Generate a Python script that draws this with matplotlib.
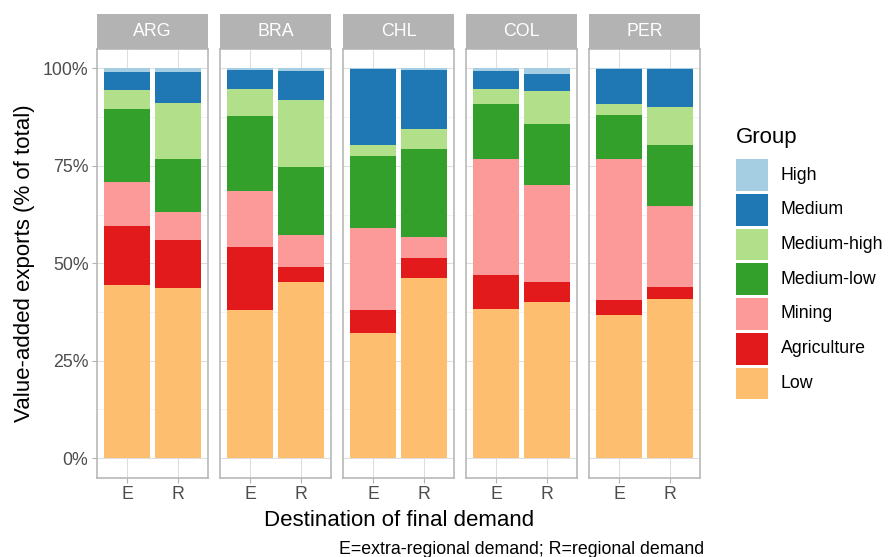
import matplotlib
matplotlib.use('Agg')
import matplotlib.pyplot as plt
from matplotlib.patches import Rectangle
import numpy as np

plt.rcParams['font.family'] = ['Liberation Sans', 'DejaVu Sans']

# data: share of value-added exports (%), stacked bottom -> top
countries = ['ARG', 'BRA', 'CHL', 'COL', 'PER']
destinations = ['E', 'R']
groups = ['Low', 'Agriculture', 'Mining', 'Medium-low', 'Medium-high', 'Medium', 'High']
colors = ['#FDBF6F', '#E31A1C', '#FB9A99', '#33A02C', '#B2DF8A', '#1F78B4', '#A6CEE3']

# each row: [E, R] per country, order as countries
low = [[44.4, 43.6], [38.0, 45.1], [32.1, 46.2], [38.25, 40.0], [36.7, 40.9]]
agriculture = [[15.1, 12.3], [16.1, 3.85], [5.9, 5.1], [8.7, 5.1], [3.85, 3.0]]
mining = [[11.25, 7.4], [14.55, 8.2], [20.95, 5.35], [29.9, 25.05], [36.3, 20.7]]
medium_low = [[18.9, 13.5], [19.15, 17.6], [18.65, 22.75], [14.05, 15.6], [11.25, 15.8]]
medium_high = [[4.85, 14.3], [6.9, 17.1], [2.8, 5.1], [3.8, 8.45], [2.8, 9.7]]
medium = [[4.6, 7.9], [4.85, 7.45], [19.4, 15.1], [4.6, 4.35], [8.9, 9.7]]
high = [[0.9, 1.0], [0.45, 0.7], [0.2, 0.4], [0.7, 1.45], [0.2, 0.2]]
series = [low, agriculture, mining, medium_low, medium_high, medium, high]

yticks = [0, 25, 50, 75, 100]
ytick_labels = ['0%', '25%', '50%', '75%', '100%']

W, H = 890, 557
fig = plt.figure(figsize=(W / 100, H / 100), dpi=100)

panel_left = 96.8
panel_w = 111.6
panel_gap = 11.4
panel_top = 49.0
panel_bottom = 477.7
strip_h = 35.0
border = '#B3B3B3'
tick_col = '#4D4D4D'

for ci, country in enumerate(countries):
    x0 = panel_left + ci * (panel_w + panel_gap)
    ax = fig.add_axes([x0 / W, 1 - panel_bottom / H, panel_w / W, (panel_bottom - panel_top) / H])
    x = np.arange(len(destinations))
    bottom = np.zeros(len(destinations))
    for gi, g in enumerate(groups):
        vals = np.array(series[gi][ci])
        ax.bar(x, vals, width=0.9, bottom=bottom, color=colors[gi], label=g,
               linewidth=0, zorder=3)
        bottom += vals
    ax.set_xlim(-0.6, 1.6)
    ax.set_ylim(-5, 105)
    ax.set_xticks(x)
    ax.set_xticklabels(destinations)
    ax.set_yticks(yticks)
    ax.set_yticks([12.5, 37.5, 62.5, 87.5], minor=True)
    if ci == 0:
        ax.set_yticklabels(ytick_labels)
    else:
        ax.tick_params(axis='y', which='both', left=False, labelleft=False)
    ax.tick_params(axis='y', which='minor', left=False)
    ax.tick_params(axis='both', which='major', labelsize=12.8, colors=border,
                   labelcolor=tick_col, length=3.5, width=0.8, pad=2.5)
    ax.grid(True, which='major', color='#DEDEDE', linewidth=0.75, zorder=0)
    ax.grid(True, which='minor', axis='y', color='#EBEBEB', linewidth=0.45, zorder=0)
    for s in ax.spines.values():
        s.set_color(border)
        s.set_linewidth(1.1)
    # facet strip
    sh = strip_h / (panel_bottom - panel_top)
    ax.add_patch(Rectangle((0, 1), 1, sh, transform=ax.transAxes, clip_on=False,
                           facecolor='#B3B3B3', edgecolor='none'))
    ax.text(0.5, 1 + sh / 2, country, transform=ax.transAxes, ha='center', va='center',
            color='white', fontsize=12.8)

fig.text(0.4485, 1 - 520 / H, 'Destination of final demand', ha='center', va='center', fontsize=16)
fig.text(25 / W, 1 - 263 / H, 'Value-added exports (% of total)', ha='center', va='center',
         rotation=90, fontsize=16)
fig.text(704 / W, 1 - 549 / H, 'E=extra-regional demand; R=regional demand', ha='right',
         va='center', fontsize=12.8)

# legend, drawn like ggplot's guide (High on top)
fig.text(736 / W, 1 - 143.5 / H, 'Group', ha='left', va='baseline', fontsize=16)
key_top, key_pitch, key_h, key_w = 159.3, 34.7, 31.7, 32.0
for i, (g, c) in enumerate(zip(groups[::-1], colors[::-1])):
    top = key_top + i * key_pitch
    fig.patches.append(Rectangle((736 / W, 1 - (top + key_h) / H), key_w / W, key_h / H,
                                 transform=fig.transFigure, facecolor=c, edgecolor='none'))
    fig.text(781 / W, 1 - (top + key_h / 2) / H, g, ha='left', va='center', fontsize=12.8)

fig.savefig('out.png', dpi=100)
